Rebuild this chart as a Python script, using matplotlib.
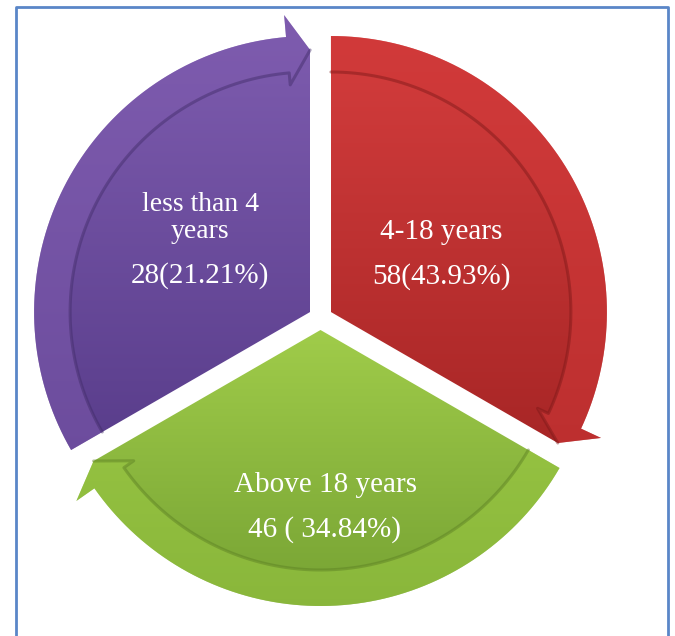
import numpy as np
import matplotlib.pyplot as plt
from matplotlib.path import Path
from matplotlib.patches import PathPatch
from matplotlib.colors import LinearSegmentedColormap

# data
labels = ['less than 4\nyears', '4-18 years', 'Above 18 years']
counts = [28, 58, 46]
values = ['28(21.21%)', '58(43.93%)', '46 ( 34.84%)']

# styling
top_colors = ['#7f5db0', '#d43d3d', '#a0cc4a']
bottom_colors = ['#593d8b', '#a82626', '#76a233']
band_colors = ['#7d5aad', '#cf3838', '#9ac842']
shade_colors = ['#3f2a66', '#7a1717', '#5a7d22']

W, H = 675, 636
cx, cy = 320.5, 318
explode = 12
r_out, r_in = 276, 240
r_wing_out, r_wing_in, r_tip = 298, 228, 262
back = 5.0

plt.rcParams['font.family'] = ['Liberation Serif', 'DejaVu Serif']
fig = plt.figure(figsize=(W / 100, H / 100), dpi=100)
ax = fig.add_axes([0, 0, 1, 1])

n = len(labels)
step = 360.0 / n
for i in range(n):
    a0 = 210 - step * i          # tail end of the arrow
    a1 = a0 - step               # head end (clockwise)
    mid = np.radians((a0 + a1) / 2)
    ox = cx + explode * np.cos(mid)
    oy = cy - explode * np.sin(mid)

    def pol(r, a):
        t = np.radians(a)
        return (ox + r * np.cos(t), oy - r * np.sin(t))

    arc = np.linspace(a0, a1 + back, 80)
    body = [(ox, oy)] + [pol(r_out, a) for a in arc]
    body += [pol(r_wing_out, a1 + back), pol(r_tip, a1), (ox, oy)]
    codes = [Path.MOVETO] + [Path.LINETO] * (len(body) - 2) + [Path.CLOSEPOLY]
    patch = PathPatch(Path(body, codes), facecolor='none', edgecolor='none')
    ax.add_patch(patch)

    xs = [p[0] for p in body]
    ys = [p[1] for p in body]
    cmap = LinearSegmentedColormap.from_list('g%d' % i, [top_colors[i], bottom_colors[i]])
    grad = np.linspace(0, 1, 256).reshape(-1, 1)
    im = ax.imshow(grad, extent=(min(xs), max(xs), min(ys), max(ys)), origin='lower',
                   cmap=cmap, aspect='auto', interpolation='bilinear', zorder=1)
    im.set_clip_path(patch)

    # outer band with arrow head
    band = [pol(r_out, a) for a in arc]
    band += [pol(r_wing_out, a1 + back), pol(r_tip, a1), pol(r_wing_in, a1 + back)]
    band += [pol(r_in, a) for a in arc[::-1]]
    ax.fill([p[0] for p in band], [p[1] for p in band], color=band_colors[i],
            alpha=0.55, lw=0, zorder=2)

    # shade along the inner edge of the band
    inner = [pol(r_in, a) for a in arc] + [pol(r_wing_in, a1 + back), pol(r_tip, a1)]
    ax.plot([p[0] for p in inner], [p[1] for p in inner], color=shade_colors[i],
            lw=2.2, alpha=0.45, zorder=3, solid_capstyle='round')

# texts
ax.text(200, 218, labels[0], color='white', fontsize=20, ha='center', va='center',
        linespacing=1.15, zorder=5)
ax.text(200, 276, values[0], color='white', fontsize=21, ha='center', va='center', zorder=5)
ax.text(441, 232, labels[1], color='white', fontsize=21, ha='center', va='center', zorder=5)
ax.text(441, 277, values[1], color='white', fontsize=21, ha='center', va='center', zorder=5)
ax.text(325, 485, labels[2], color='white', fontsize=21, ha='center', va='center', zorder=5)
ax.text(325, 530, values[2], color='white', fontsize=21, ha='center', va='center', zorder=5)

# frame of the figure box
ax.plot([16, 16, 668, 668], [H, 7, 7, H], color='#5a86c8', lw=2, zorder=6)

ax.set_xlim(0, W)
ax.set_ylim(H, 0)
ax.axis('off')
fig.savefig('out.png', dpi=100, facecolor='white')
